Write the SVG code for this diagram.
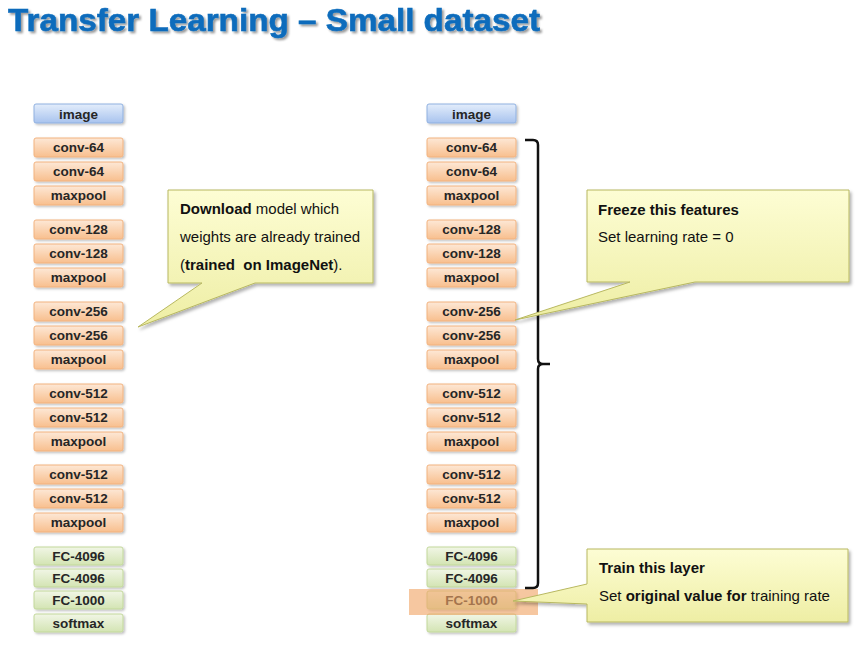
<svg xmlns="http://www.w3.org/2000/svg" width="868" height="648" viewBox="0 0 868 648">
<defs>
<linearGradient id="gBlue" x1="0" y1="0" x2="0" y2="1"><stop offset="0" stop-color="#e3edfb"/><stop offset="1" stop-color="#a8c3ee"/></linearGradient>
<linearGradient id="gOrange" x1="0" y1="0" x2="0" y2="1"><stop offset="0" stop-color="#fde8d6"/><stop offset="1" stop-color="#f8bf8e"/></linearGradient>
<linearGradient id="gGreen" x1="0" y1="0" x2="0" y2="1"><stop offset="0" stop-color="#f1f6e6"/><stop offset="1" stop-color="#d3e4b3"/></linearGradient>
<linearGradient id="gYellow" x1="0" y1="0" x2="0" y2="1"><stop offset="0" stop-color="#fdfdd4"/><stop offset="1" stop-color="#eeeea4"/></linearGradient>
<filter id="sh" x="-10%" y="-10%" width="130%" height="140%"><feDropShadow dx="1.5" dy="1.5" stdDeviation="1.2" flood-color="#000" flood-opacity="0.25"/></filter>
<filter id="shc" x="-10%" y="-10%" width="130%" height="140%"><feDropShadow dx="2" dy="2.5" stdDeviation="1.5" flood-color="#000" flood-opacity="0.3"/></filter>
<filter id="sht" x="-5%" y="-20%" width="110%" height="150%"><feDropShadow dx="2" dy="2" stdDeviation="0.8" flood-color="#000" flood-opacity="0.4"/></filter>
</defs>
<style>
.title{font-family:"Liberation Sans",Arial,sans-serif;font-weight:bold;font-size:32px;fill:#0a6cbc;stroke:#0a6cbc;stroke-width:0.6;filter:url(#sht)}
.box rect{stroke-width:1;filter:url(#sh)}
.blue rect{fill:url(#gBlue);stroke:#8fb0e0}
.orange rect{fill:url(#gOrange);stroke:#f2b27f}
.green rect{fill:url(#gGreen);stroke:#c2d89a}
.box text{font-family:"Liberation Sans",Arial,sans-serif;font-weight:bold;font-size:13.5px;fill:#262626;text-anchor:middle}
.callout path{fill:url(#gYellow);stroke:#b8b860;stroke-width:1;filter:url(#shc)}
.callout text{font-family:"Liberation Sans",Arial,sans-serif;font-size:15px;fill:#111}
.b{font-weight:bold}
.brace{fill:none;stroke:#111;stroke-width:2.5}
</style>
<rect width="868" height="648" fill="#fff"/>
<text class="title" x="8" y="31" textLength="532" lengthAdjust="spacingAndGlyphs">Transfer Learning – Small dataset</text>

<!-- Left column -->
<g id="L-image" class="box blue"><rect x="34" y="104" width="89" height="19" rx="2"/><text x="78.5" y="118.5">image</text></g>
<g id="L-conv64a" class="box orange"><rect x="34" y="138" width="89" height="19" rx="2"/><text x="78.5" y="152">conv-64</text></g>
<g id="L-conv64b" class="box orange"><rect x="34" y="162" width="89" height="19" rx="2"/><text x="78.5" y="176">conv-64</text></g>
<g id="L-pool1" class="box orange"><rect x="34" y="186" width="89" height="19" rx="2"/><text x="78.5" y="200">maxpool</text></g>
<g id="L-conv128a" class="box orange"><rect x="34" y="220" width="89" height="19" rx="2"/><text x="78.5" y="234">conv-128</text></g>
<g id="L-conv128b" class="box orange"><rect x="34" y="244" width="89" height="19" rx="2"/><text x="78.5" y="258">conv-128</text></g>
<g id="L-pool2" class="box orange"><rect x="34" y="268" width="89" height="19" rx="2"/><text x="78.5" y="282">maxpool</text></g>
<g id="L-conv256a" class="box orange"><rect x="34" y="302" width="89" height="19" rx="2"/><text x="78.5" y="316">conv-256</text></g>
<g id="L-conv256b" class="box orange"><rect x="34" y="326" width="89" height="19" rx="2"/><text x="78.5" y="340">conv-256</text></g>
<g id="L-pool3" class="box orange"><rect x="34" y="350" width="89" height="19" rx="2"/><text x="78.5" y="364">maxpool</text></g>
<g id="L-conv512a" class="box orange"><rect x="34" y="384" width="89" height="19" rx="2"/><text x="78.5" y="398">conv-512</text></g>
<g id="L-conv512b" class="box orange"><rect x="34" y="408" width="89" height="19" rx="2"/><text x="78.5" y="422">conv-512</text></g>
<g id="L-pool4" class="box orange"><rect x="34" y="432" width="89" height="19" rx="2"/><text x="78.5" y="446">maxpool</text></g>
<g id="L-conv512c" class="box orange"><rect x="34" y="465" width="89" height="19" rx="2"/><text x="78.5" y="479">conv-512</text></g>
<g id="L-conv512d" class="box orange"><rect x="34" y="489" width="89" height="19" rx="2"/><text x="78.5" y="503">conv-512</text></g>
<g id="L-pool5" class="box orange"><rect x="34" y="513" width="89" height="19" rx="2"/><text x="78.5" y="527">maxpool</text></g>
<g id="L-fc4096a" class="box green"><rect x="34" y="547" width="89" height="18" rx="2"/><text x="78.5" y="560.5">FC-4096</text></g>
<g id="L-fc4096b" class="box green"><rect x="34" y="569" width="89" height="18" rx="2"/><text x="78.5" y="582.5">FC-4096</text></g>
<g id="L-fc1000" class="box green"><rect x="34" y="591" width="89" height="18" rx="2"/><text x="78.5" y="604.5">FC-1000</text></g>
<g id="L-softmax" class="box green"><rect x="34" y="614" width="89" height="18" rx="2"/><text x="78.5" y="627.5">softmax</text></g>

<!-- Right column -->
<g id="R-image" class="box blue"><rect x="427" y="104" width="89" height="19" rx="2"/><text x="471.5" y="118.5">image</text></g>
<g id="R-conv64a" class="box orange"><rect x="427" y="138" width="89" height="19" rx="2"/><text x="471.5" y="152">conv-64</text></g>
<g id="R-conv64b" class="box orange"><rect x="427" y="162" width="89" height="19" rx="2"/><text x="471.5" y="176">conv-64</text></g>
<g id="R-pool1" class="box orange"><rect x="427" y="186" width="89" height="19" rx="2"/><text x="471.5" y="200">maxpool</text></g>
<g id="R-conv128a" class="box orange"><rect x="427" y="220" width="89" height="19" rx="2"/><text x="471.5" y="234">conv-128</text></g>
<g id="R-conv128b" class="box orange"><rect x="427" y="244" width="89" height="19" rx="2"/><text x="471.5" y="258">conv-128</text></g>
<g id="R-pool2" class="box orange"><rect x="427" y="268" width="89" height="19" rx="2"/><text x="471.5" y="282">maxpool</text></g>
<g id="R-conv256a" class="box orange"><rect x="427" y="302" width="89" height="19" rx="2"/><text x="471.5" y="316">conv-256</text></g>
<g id="R-conv256b" class="box orange"><rect x="427" y="326" width="89" height="19" rx="2"/><text x="471.5" y="340">conv-256</text></g>
<g id="R-pool3" class="box orange"><rect x="427" y="350" width="89" height="19" rx="2"/><text x="471.5" y="364">maxpool</text></g>
<g id="R-conv512a" class="box orange"><rect x="427" y="384" width="89" height="19" rx="2"/><text x="471.5" y="398">conv-512</text></g>
<g id="R-conv512b" class="box orange"><rect x="427" y="408" width="89" height="19" rx="2"/><text x="471.5" y="422">conv-512</text></g>
<g id="R-pool4" class="box orange"><rect x="427" y="432" width="89" height="19" rx="2"/><text x="471.5" y="446">maxpool</text></g>
<g id="R-conv512c" class="box orange"><rect x="427" y="465" width="89" height="19" rx="2"/><text x="471.5" y="479">conv-512</text></g>
<g id="R-conv512d" class="box orange"><rect x="427" y="489" width="89" height="19" rx="2"/><text x="471.5" y="503">conv-512</text></g>
<g id="R-pool5" class="box orange"><rect x="427" y="513" width="89" height="19" rx="2"/><text x="471.5" y="527">maxpool</text></g>
<g id="R-fc4096a" class="box green"><rect x="427" y="547" width="89" height="18" rx="2"/><text x="471.5" y="560.5">FC-4096</text></g>
<g id="R-fc4096b" class="box green"><rect x="427" y="569" width="89" height="18" rx="2"/><text x="471.5" y="582.5">FC-4096</text></g>
<g id="R-fc1000" class="box green"><rect x="427" y="591" width="89" height="18" rx="2"/><text x="471.5" y="604.5">FC-1000</text></g>
<g id="R-softmax" class="box green"><rect x="427" y="614" width="89" height="18" rx="2"/><text x="471.5" y="627.5">softmax</text></g>

<!-- highlight over FC-1000 -->
<g id="highlight"><rect x="409" y="589" width="129" height="26" fill="#f0a466" opacity="0.62"/></g>

<!-- connectors -->
<g id="connectors">
<path class="brace" d="M525,140 H533 Q538,140 538,145 V359 Q538,364 543,364 H550 M543,364 Q538,364 538,369 V583 Q538,588 533,588 H525"/>
</g>

<!-- callouts -->
<g id="callout-download" class="callout">
<path d="M168,190 H373 V283 H255 L138,327 L202,283 H168 Z"/>
<text x="180" y="214"><tspan class="b">Download</tspan> model which</text>
<text x="180" y="242">weights are already trained</text>
<text x="180" y="270">(<tspan class="b">trained&#160; on ImageNet</tspan>).</text>
</g>
<g id="callout-freeze" class="callout">
<path d="M587,190 H849 V282 H695 L515,320 L630,282 H587 Z"/>
<text x="598" y="215" class="b">Freeze this features</text>
<text x="598" y="242">Set learning rate = 0</text>
</g>
<g id="callout-train" class="callout">
<path d="M587,549 H848 V622 H587 V604 L513,601 L587,584 Z"/>
<text x="599" y="573" class="b">Train this layer</text>
<text x="599" y="601">Set <tspan class="b">original value for</tspan> training rate</text>
</g>
</svg>
